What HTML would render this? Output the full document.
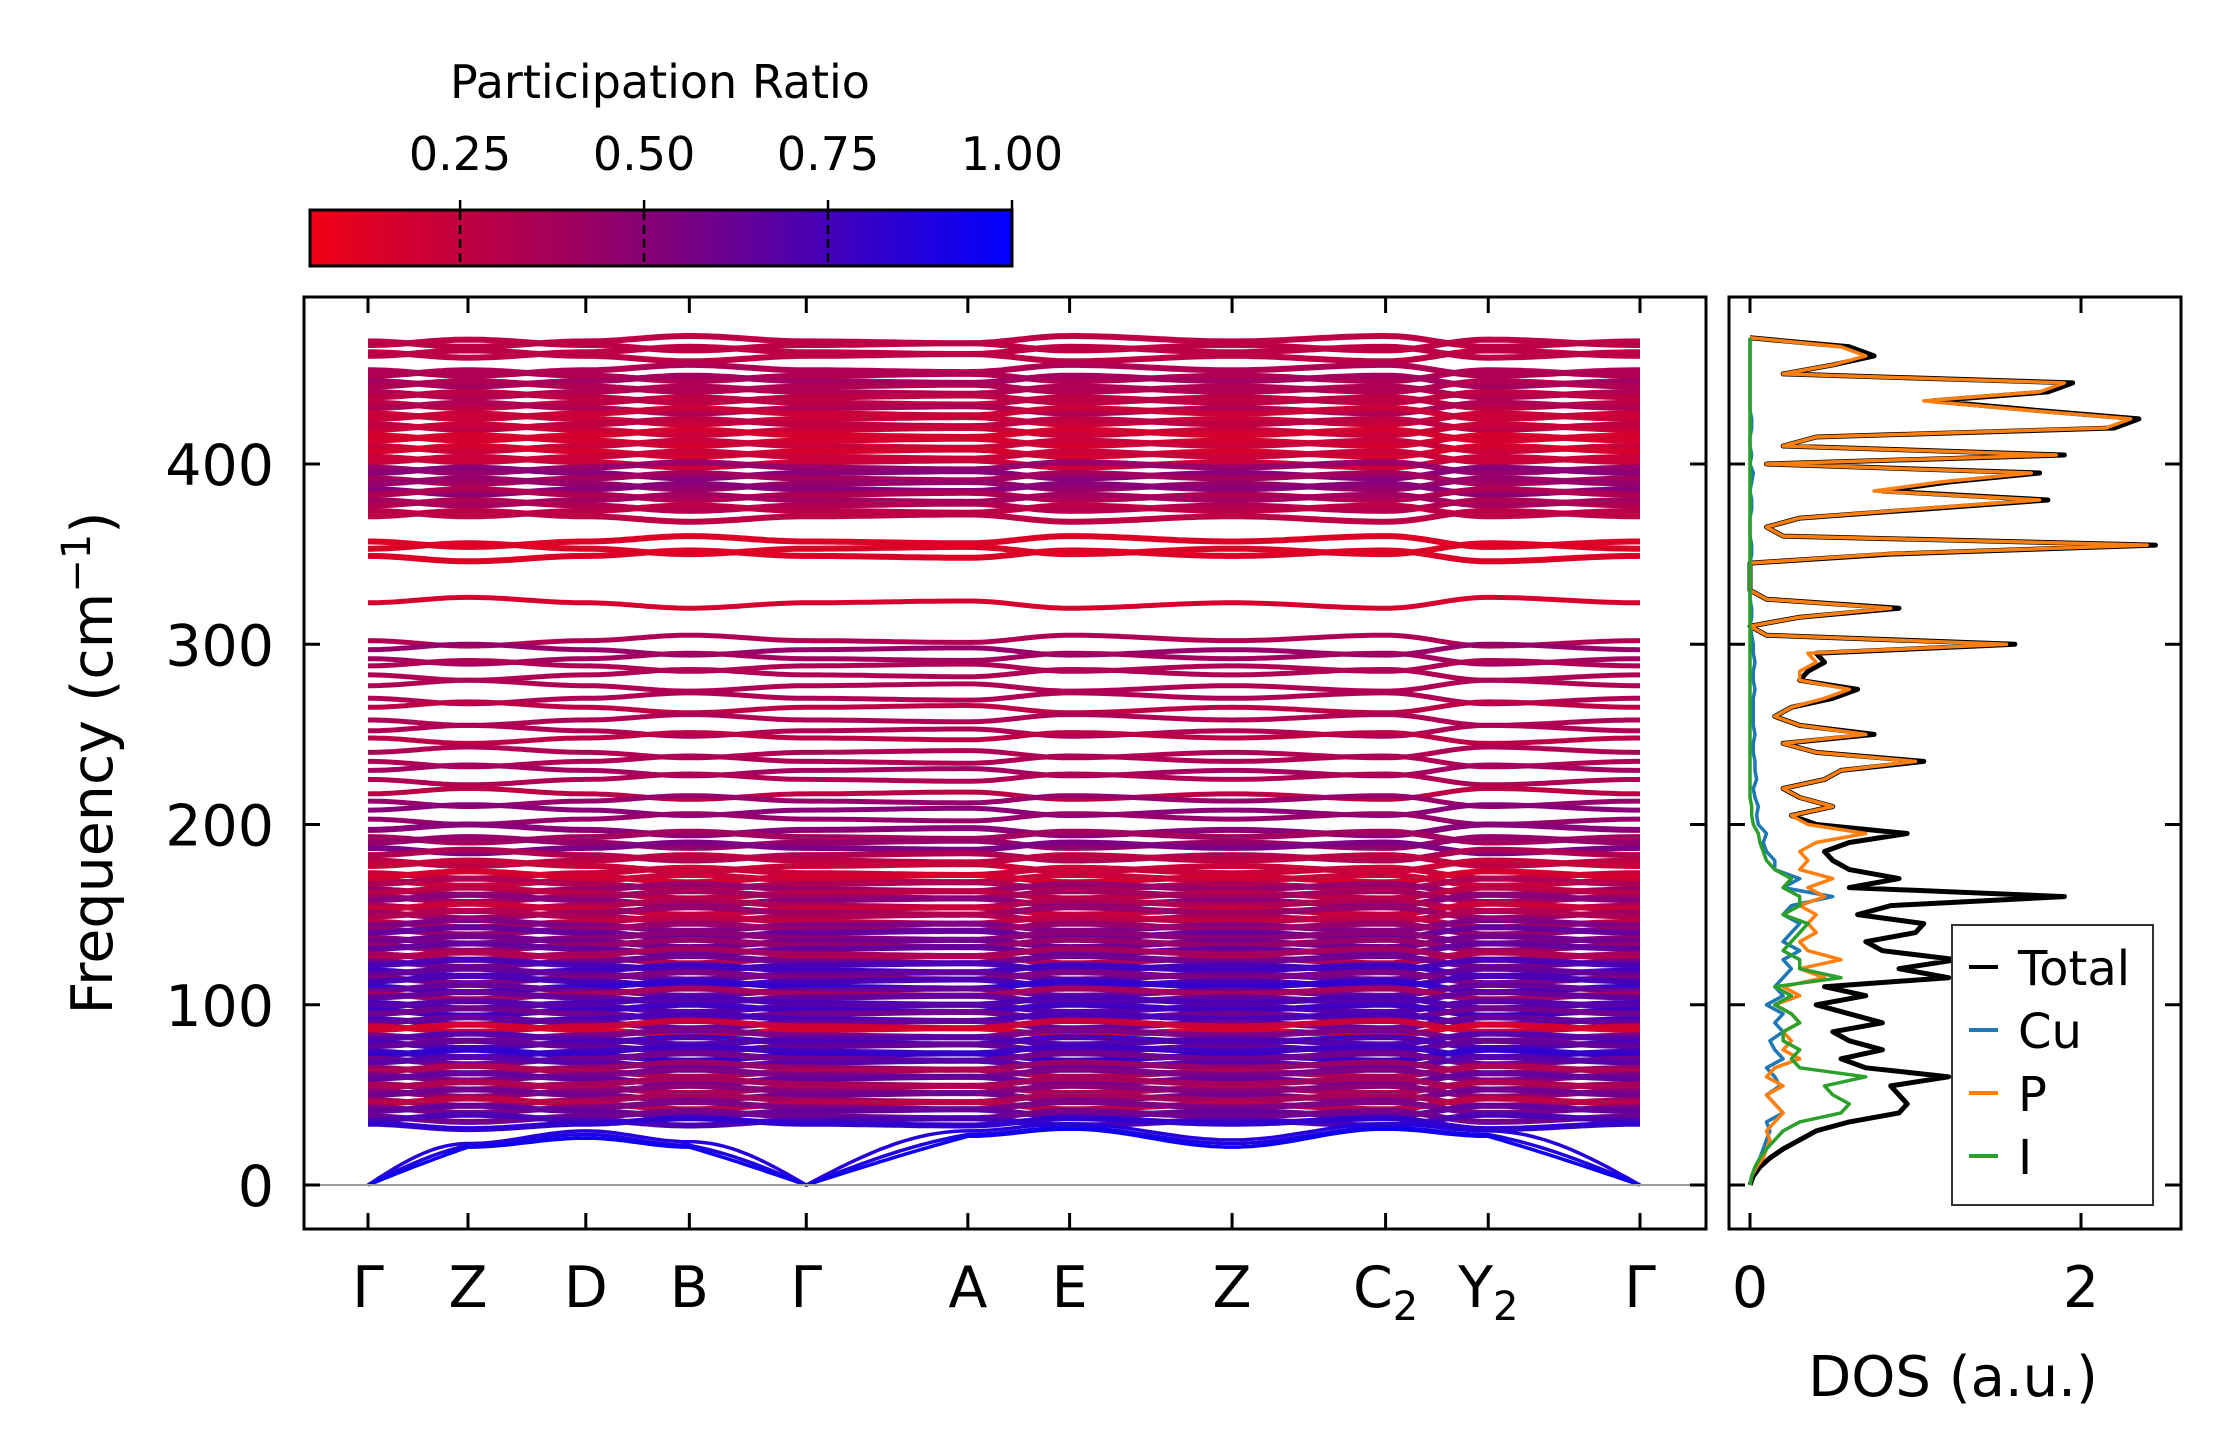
<!DOCTYPE html>
<html><head><meta charset="utf-8"><style>
html,body{margin:0;padding:0;background:#fff;}
svg{display:block;font-family:"DejaVu Sans","Liberation Sans",sans-serif;}
</style></head><body>
<svg id="fig" width="2222" height="1455" viewBox="0 0 2222 1455" xmlns="http://www.w3.org/2000/svg">
<defs>
<linearGradient id="cmap" x1="0" x2="1" y1="0" y2="0">
<stop offset="0" stop-color="rgb(240,0,20)"/>
<stop offset="0.5" stop-color="rgb(130,0,120)"/>
<stop offset="1" stop-color="rgb(0,0,255)"/>
</linearGradient>
<clipPath id="clipMain"><rect x="304" y="297" width="1402" height="932"/></clipPath>
<clipPath id="clipDos"><rect x="1729" y="297" width="452" height="932"/></clipPath>
</defs>
<g id="colorbar">
<text x="660" y="98" font-size="46" text-anchor="middle">Participation Ratio</text>
<rect x="310" y="210" width="702" height="56" fill="url(#cmap)" stroke="#000" stroke-width="3"/>
<g id="cbTicks"></g>
</g>
<g id="mainAx">
<g id="bands" clip-path="url(#clipMain)"></g>
<line id="zeroLine" x1="304" x2="1706" stroke="#999" stroke-width="2"/>
<rect x="304" y="297" width="1402" height="932" fill="none" stroke="#000" stroke-width="3"/>
<g id="mainTicks"></g>
<text transform="translate(112,763) rotate(-90)" font-size="57" text-anchor="middle">Frequency (cm<tspan dy="-22" font-size="40">−1</tspan><tspan dy="22">)</tspan></text>
</g>
<g id="dosAx">
<g id="dosLines" clip-path="url(#clipDos)"></g>
<rect x="1729" y="297" width="452" height="932" fill="none" stroke="#000" stroke-width="3"/>
<g id="dosTicks"></g>
<text x="1953" y="1396" font-size="56" text-anchor="middle">DOS (a.u.)</text>
<g id="legend">
<rect x="1952" y="925" width="201" height="280" fill="#fff" stroke="#333" stroke-width="2"/>
</g>
</g>
</svg>
<script>
const NS="http://www.w3.org/2000/svg";
// ---------- data ----------
const kLabels=["Γ","Z","D","B","Γ","A","E","Z","C2","Y2","Γ"];
const kPos=[0,0.112,0.244,0.36,0.491,0.672,0.786,0.968,1.14,1.255,1.425];
const yTicks=[0,100,200,300,400];
const cbTicks=[0.25,0.5,0.75,1.0];
const bandFreq=[468,466,462,460,452,449,446,443,440,437,434,431,428,425,422,419,416,413,410,407,404,401,398,395,392,389,386,383,380,377,374,371,
357,353,349,323,
302,297,292,288,283,277,270,265,258,252,248,240,235,230,225,217,213,208,203,
197,193,190,187,183,180,177,173,171,169,167,164,162,160,158,155,153,151,149,146,144,142,140,137,135,133,131,128,126,124,
122,119,117,115,113,110,108,106,104,101,99,97,95,92,90,88,86,83,81,79,77,74,72,70,68,65,63,61,59,56,54,52,50,47,45,43,41,38,36,34];
const bandPR=[0.25,0.25,0.25,0.25,0.3,0.3,0.35,0.3,0.3,0.25,0.25,0.3,0.2,0.2,0.25,0.2,0.15,0.15,0.2,0.15,0.2,0.2,0.4,0.45,0.35,0.4,0.45,0.3,0.35,0.3,0.25,0.25,
0.12,0.12,0.12,0.15,
0.3,0.4,0.35,0.3,0.3,0.3,0.3,0.25,0.3,0.3,0.25,0.3,0.3,0.35,0.3,0.25,0.4,0.45,0.4,
0.45,0.35,0.4,0.5,0.3,0.25,0.2,0.2,0.15,0.2,0.3,0.4,0.25,0.35,0.45,0.3,0.2,0.4,0.3,0.25,0.5,0.4,0.6,0.45,0.55,0.4,0.6,0.35,0.3,0.55,
0.7,0.75,0.6,0.5,0.7,0.8,0.6,0.35,0.6,0.7,0.65,0.75,0.55,0.7,0.6,0.2,0.15,0.5,0.65,0.7,0.6,0.75,0.8,0.55,0.65,0.4,0.3,0.5,0.6,0.35,0.3,0.45,0.55,0.35,0.25,0.5,0.6,0.55,0.7,0.8];
const bandShape=[0,3,0,-3,0,1,-3,0,-3,3,0];
const acoustic=[
 [0,23,30,24,0,30,34,25,34,30,0],
 [0,22,28,22,0,28,32,23,32,28,0],
 [0,21,26,21,0,27,31,21,31,27,0]];
const acousticPR=[0.85,0.88,0.95];
const acousticEase=[1,0.45,0.1];
const dosFreqStep=5;
const dosTotal=[0,0.02,0.06,0.12,0.2,0.3,0.4,0.6,0.9,0.95,0.9,0.85,1.2,0.7,0.55,0.8,0.6,0.5,0.8,0.6,0.4,0.7,0.45,1.2,0.9,1.25,0.8,0.7,1.0,1.05,0.65,0.85,1.9,0.6,0.9,0.6,0.5,0.45,0.6,0.95,0.4,0.25,0.5,0.3,0.2,0.45,0.55,1.05,0.4,0.2,0.75,0.3,0.15,0.25,0.5,0.65,0.3,0.35,0.45,0.4,1.6,0.1,0,0.3,0.9,0.1,0,0,0,0,0.85,2.45,0.2,0.1,0.3,1.05,1.8,0.8,1.2,1.75,0.1,1.9,0.2,0.4,2.2,2.35,1.7,1.1,1.8,1.95,0.2,0.5,0.75,0.6,0];
const dosP=[0,0.01,0.04,0.08,0.1,0.12,0.1,0.15,0.2,0.15,0.1,0.2,0.1,0.15,0.3,0.2,0.25,0.2,0.3,0.25,0.15,0.3,0.2,0.45,0.3,0.55,0.35,0.3,0.4,0.35,0.4,0.3,0.45,0.35,0.5,0.3,0.35,0.3,0.4,0.7,0.35,0.25,0.5,0.3,0.2,0.45,0.55,1.0,0.4,0.2,0.7,0.3,0.15,0.25,0.45,0.6,0.3,0.3,0.4,0.35,1.55,0.1,0,0.3,0.85,0.1,0,0,0,0,0.8,2.4,0.2,0.1,0.3,1.0,1.75,0.75,1.15,1.7,0.1,1.85,0.2,0.4,2.15,2.3,1.65,1.05,1.75,1.9,0.2,0.5,0.7,0.55,0];
const dosCu=[0,0.01,0.03,0.06,0.08,0.1,0.12,0.1,0.2,0.15,0.1,0.18,0.15,0.1,0.2,0.15,0.12,0.2,0.15,0.2,0.1,0.2,0.15,0.2,0.25,0.2,0.3,0.2,0.25,0.3,0.2,0.25,0.5,0.2,0.3,0.15,0.15,0.1,0.08,0.1,0.05,0.04,0.05,0.03,0.02,0.04,0.03,0.03,0.02,0.02,0.03,0.02,0.02,0.02,0.02,0.03,0.02,0.02,0.03,0.02,0.02,0.01,0,0.01,0.01,0,0,0,0,0,0.01,0.01,0,0,0,0.01,0.01,0,0.01,0.02,0,0.01,0,0,0.01,0.01,0,0,0,0,0,0,0,0,0];
const dosI=[0,0.01,0.03,0.06,0.1,0.15,0.2,0.3,0.55,0.6,0.5,0.45,0.7,0.3,0.25,0.3,0.2,0.2,0.3,0.25,0.15,0.25,0.15,0.55,0.3,0.3,0.2,0.25,0.3,0.35,0.2,0.3,0.3,0.2,0.25,0.15,0.1,0.08,0.06,0.05,0.02,0.01,0.01,0,0,0,0,0,0,0,0,0,0,0,0,0,0,0,0,0,0,0,0,0,0,0,0,0,0,0,0,0,0,0,0,0,0,0,0,0,0,0,0,0,0,0,0,0,0,0,0,0,0,0,0];
// ---------- scales ----------
const X0=368,X1=1640, Y0=1185, PXF=1.8025;
const xk=t=>X0+(X1-X0)*t/kPos[kPos.length-1];
const yf=f=>Y0-f*PXF;
const DX0=1750, DPX=(2081-1750)/2;
const xd=v=>DX0+v*DPX;
const CB0=310, CBW=702, CBMIN=0.046;
const xcb=v=>CB0+CBW*(v-CBMIN)/(1-CBMIN);
function prColor(p){const t=Math.max(0,Math.min(1,(p-CBMIN)/(1-CBMIN)));
 return `rgb(${Math.round(240*(1-t))},0,${Math.round(20+235*t)})`;}
function mk(tag,attrs,parent){const e=document.createElementNS(NS,tag);for(const k in attrs)e.setAttribute(k,attrs[k]);parent.appendChild(e);return e;}
document.getElementById('zeroLine').setAttribute('y1',yf(0));
document.getElementById('zeroLine').setAttribute('y2',yf(0));
function bandPath(vals,ease){if(ease===undefined)ease=1;let d="";const N=24;
 for(let s=0;s<vals.length-1;s++){for(let i=0;i<=N;i++){if(s>0&&i===0)continue;
  const u=i/N;let w;
  if(vals[s]===0&&vals[s+1]!==0)w=ease*Math.sin(Math.PI*u/2)+(1-ease)*u;
  else if(vals[s+1]===0&&vals[s]!==0)w=ease*(1-Math.cos(Math.PI*u/2))+(1-ease)*u;
  else w=(1-Math.cos(Math.PI*u))/2;
  const t=kPos[s]+(kPos[s+1]-kPos[s])*u;
  const f=vals[s]+(vals[s+1]-vals[s])*w;
  d+=(d?"L":"M")+xk(t).toFixed(1)+","+yf(f).toFixed(1);}}
 return d;}
const bandsG=document.getElementById('bands');
bandFreq.forEach((f,i)=>{
 const sgn=i%2?1:-1;
 const vals=bandShape.map(s=>f+sgn*s);
 const p=mk('path',{d:bandPath(vals),fill:'none',stroke:prColor(bandPR[i]),'stroke-width':(f>200&&f<330)?5:6},bandsG);
 
 
});
acoustic.forEach((vals,i)=>{
 const p=mk('path',{d:bandPath(vals,acousticEase[i]),fill:'none',stroke:prColor(acousticPR[i]),'stroke-width':3.5},bandsG);
 
 
});
const mt=document.getElementById('mainTicks');
kLabels.forEach((lab,i)=>{const x=xk(kPos[i]);
 mk('line',{x1:x,x2:x,y1:1229,y2:1213,stroke:'#000','stroke-width':3},mt);
 mk('line',{x1:x,x2:x,y1:297,y2:313,stroke:'#000','stroke-width':3},mt);
 const t=mk('text',{x:x,y:1307,'font-size':57,'text-anchor':'middle'},mt);
 
 
 if(lab.length>1&&lab[1]==='2'){t.textContent=lab[0];const ts=mk('tspan',{dy:13,'font-size':40},t);ts.textContent='2';}
 else t.textContent=lab;
});
yTicks.forEach(v=>{const y=yf(v);
 mk('line',{x1:304,x2:320,y1:y,y2:y,stroke:'#000','stroke-width':3},mt);
 mk('line',{x1:1706,x2:1690,y1:y,y2:y,stroke:'#000','stroke-width':3},mt);
 const t=mk('text',{x:274,y:y+21,'font-size':57,'text-anchor':'end'},mt);
 
 
 t.textContent=v;
});
const ct=document.getElementById('cbTicks');
cbTicks.forEach(v=>{const x=xcb(v);
 if(v<1)mk('line',{x1:x,x2:x,y1:211,y2:265,stroke:'#000','stroke-width':2.5,'stroke-dasharray':'9,5'},ct);
 mk('line',{x1:x,x2:x,y1:210,y2:200,stroke:'#000','stroke-width':2.5},ct);
 const t=mk('text',{x:x,y:170,'font-size':46,'text-anchor':'middle'},ct);
 
 
 t.textContent=v.toFixed(2);
});
const dg=document.getElementById('dosLines');
function dosPath(arr){return arr.map((v,i)=>(i?"L":"M")+xd(v).toFixed(1)+","+yf(i*dosFreqStep).toFixed(1)).join("");}
[[dosTotal,'#000',5,'dos-total'],[dosCu,'#1f77b4',3.5,'dos-cu'],[dosP,'#ff7f0e',3.5,'dos-p'],[dosI,'#2ca02c',3.5,'dos-i']].forEach(([a,c,w,n])=>{
 const p=mk('path',{d:dosPath(a),fill:'none',stroke:c,'stroke-width':w,'stroke-linejoin':'round'},dg);
 
 
});
const dt=document.getElementById('dosTicks');
[0,2].forEach(v=>{const x=xd(v);
 mk('line',{x1:x,x2:x,y1:1229,y2:1213,stroke:'#000','stroke-width':3},dt);
 mk('line',{x1:x,x2:x,y1:297,y2:313,stroke:'#000','stroke-width':3},dt);
 const t=mk('text',{x:x,y:1307,'font-size':57,'text-anchor':'middle'},dt);
 
 
 t.textContent=v;
});
yTicks.forEach(v=>{const y=yf(v);
 mk('line',{x1:1729,x2:1745,y1:y,y2:y,stroke:'#000','stroke-width':3},dt);
 mk('line',{x1:2181,x2:2165,y1:y,y2:y,stroke:'#000','stroke-width':3},dt);
});
const lg=document.getElementById('legend');
[["Total","#000"],["Cu","#1f77b4"],["P","#ff7f0e"],["I","#2ca02c"]].forEach(([n,c],i)=>{
 const y=967+i*63;
 const l=mk('line',{x1:1969,x2:1998,y1:y,y2:y,stroke:c,'stroke-width':4},lg);
 
 
 const t=mk('text',{x:2018,y:y+18,'font-size':48},lg);
 
 
 t.textContent=n;
});
</script>
</body></html>
